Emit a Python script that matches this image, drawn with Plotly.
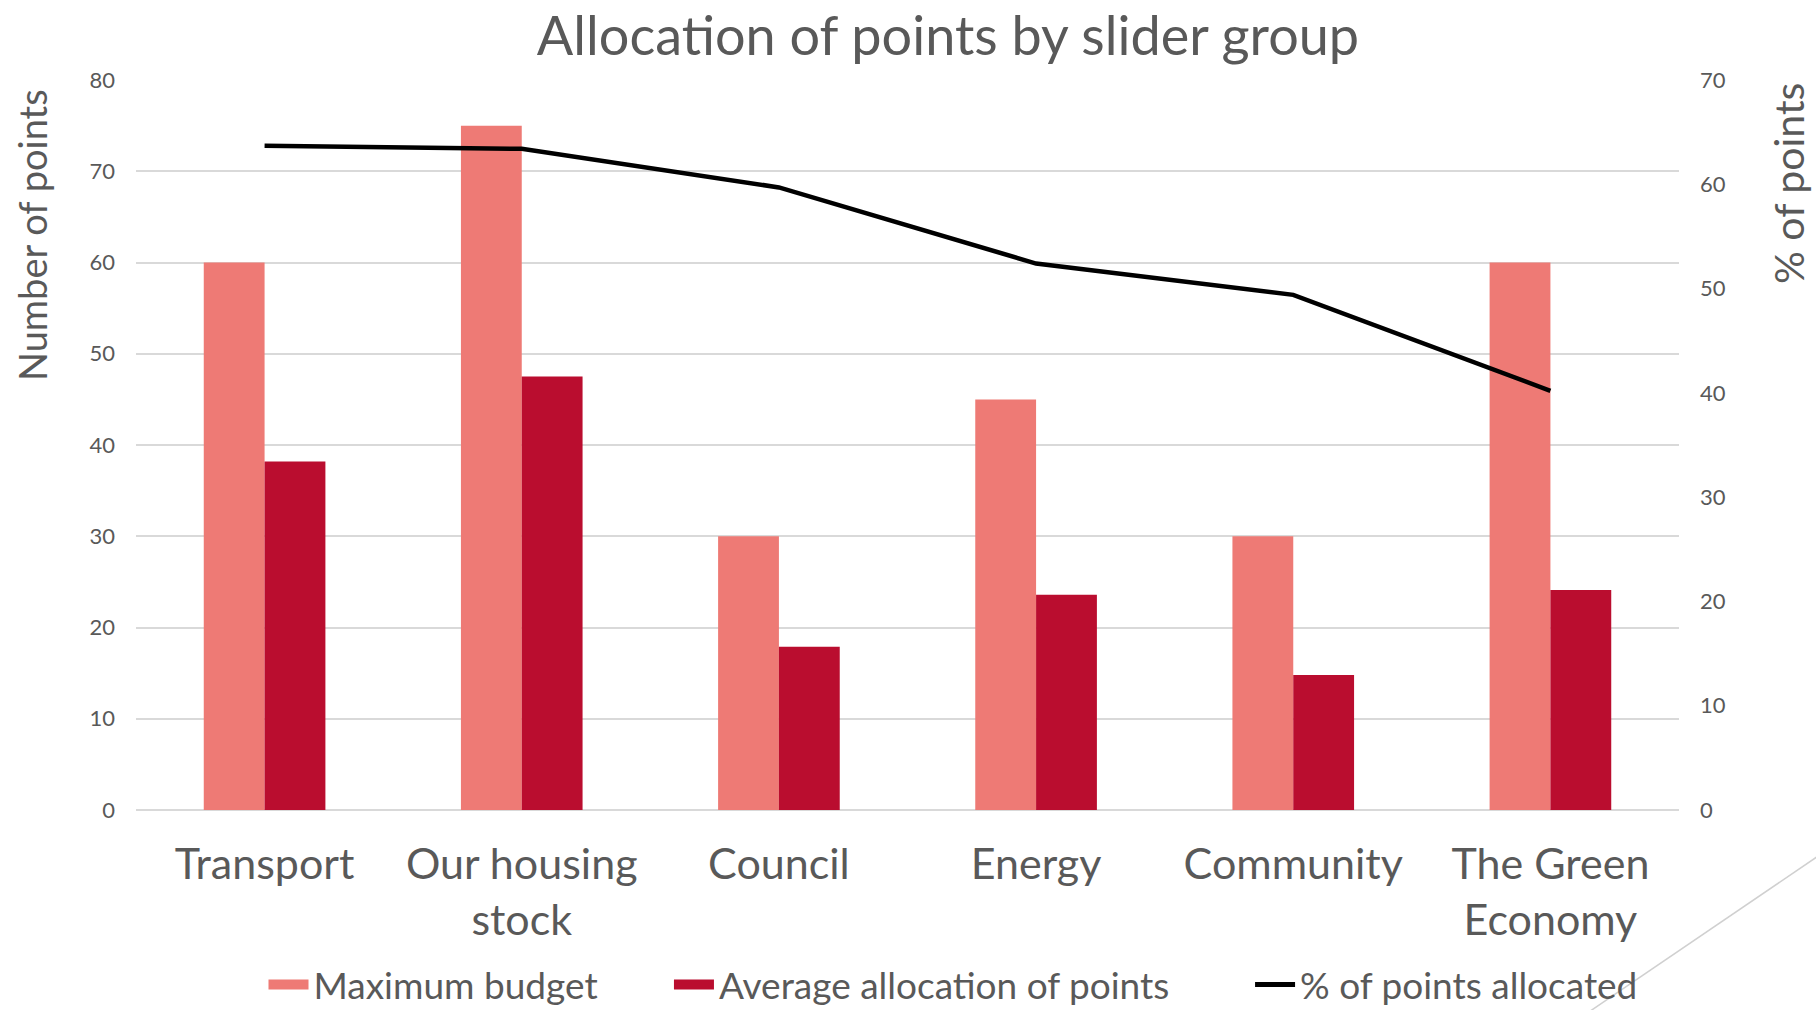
import plotly.graph_objects as go

categories = ["Transport", "Our housing<br>stock", "Council", "Energy", "Community", "The Green<br>Economy"]
max_budget = [60, 75, 30, 45, 30, 60]
avg_allocation = [38.2, 47.5, 17.9, 23.6, 14.8, 24.1]
pct_allocated = [63.7, 63.4, 59.7, 52.4, 49.4, 40.2]

left_ticks = [0, 10, 20, 30, 40, 50, 60, 70, 80]
right_ticks = [0, 10, 20, 30, 40, 50, 60, 70]

GRAY = "#595959"
FONT = "Lato"
C_MAX = "#EE7A75"
C_AVG = "#BA0D2F"
NB = "\u00a0"

W, H = 1816, 1010
L, R, T, B = 136, 137, 80, 200

fig = go.Figure()
fig.add_trace(go.Bar(x=categories, y=max_budget, name="Maximum budget",
                     legendgroup="max", showlegend=False,
                     marker=dict(color=C_MAX, line=dict(width=0))))
fig.add_trace(go.Bar(x=categories, y=avg_allocation, name="Average allocation of points",
                     legendgroup="avg", showlegend=False,
                     marker=dict(color=C_AVG, line=dict(width=0))))
fig.add_trace(go.Scatter(x=categories, y=pct_allocated, name="% of points allocated",
                         mode="lines", line=dict(color="black", width=4.5),
                         yaxis="y2", showlegend=False, legendgroup="pct"))

# legend entries (wide rectangular swatches like the original)
fig.add_trace(go.Scatter(x=[None], y=[None], mode="lines", legendgroup="max",
                         name="Maximum budget" + NB * 7,
                         line=dict(color=C_MAX, width=19)))
fig.add_trace(go.Scatter(x=[None], y=[None], mode="lines", legendgroup="avg",
                         name="Average allocation of points" + NB * 8,
                         line=dict(color=C_AVG, width=19)))
fig.add_trace(go.Scatter(x=[None], y=[None], mode="lines", legendgroup="pct",
                         name="% of points allocated",
                         line=dict(color="black", width=5)))

pw = W - L - R
ph = H - T - B

def px(x):
    return (x - L) / pw

def py(y):
    return (H - B - y) / ph

fig.update_layout(
    width=W, height=H,
    margin=dict(l=L, r=R, t=T, b=B, autoexpand=False),
    paper_bgcolor="white", plot_bgcolor="white",
    font=dict(family=FONT, color=GRAY),
    title=dict(text="Allocation of points by slider group",
               font=dict(family=FONT, size=54, color=GRAY),
               x=948 / W, xanchor="center", y=1 - 36 / H, yanchor="middle"),
    barmode="group", bargap=0.527, bargroupgap=0,
    showlegend=True,
    legend=dict(orientation="h", x=px(953), xanchor="center",
                y=py(985), yanchor="middle",
                font=dict(family=FONT, size=37, color=GRAY),
                bgcolor="rgba(0,0,0,0)", itemwidth=40),
    xaxis=dict(tickfont=dict(family=FONT, size=43, color=GRAY),
               showline=False, ticks="", ticklabelstandoff=25),
    yaxis=dict(range=[0, 80], tickvals=left_ticks, showgrid=True,
               gridcolor="#D9D9D9", gridwidth=2, zeroline=True,
               zerolinecolor="#D9D9D9", zerolinewidth=2,
               tickfont=dict(family=FONT, size=22, color=GRAY),
               ticklabelstandoff=20),
    yaxis2=dict(range=[0, 70], tickvals=right_ticks, overlaying="y", side="right",
                showgrid=False, zeroline=False,
                tickfont=dict(family=FONT, size=22, color=GRAY),
                ticklabelstandoff=20),
)

# axis titles (placed near the top of the axes, as in the original)
fig.add_annotation(text="Number of points", xref="paper", yref="paper",
                   x=px(32), y=py(235), xanchor="center", yanchor="middle",
                   textangle=-90, showarrow=False,
                   font=dict(family=FONT, size=38, color=GRAY))
fig.add_annotation(text="% of points", xref="paper", yref="paper",
                   x=px(1789), y=py(184), xanchor="center", yanchor="middle",
                   textangle=-90, showarrow=False,
                   font=dict(family=FONT, size=41, color=GRAY))

fig.add_shape(type="line", xref="paper", yref="paper",
              x0=px(1830), y0=py(848), x1=px(1580), y1=py(1018),
              line=dict(color="#D0D0D0", width=1.5))

fig.write_html("out.html", config={"displayModeBar": False},
               post_script="document.body.style.margin='0px';")
